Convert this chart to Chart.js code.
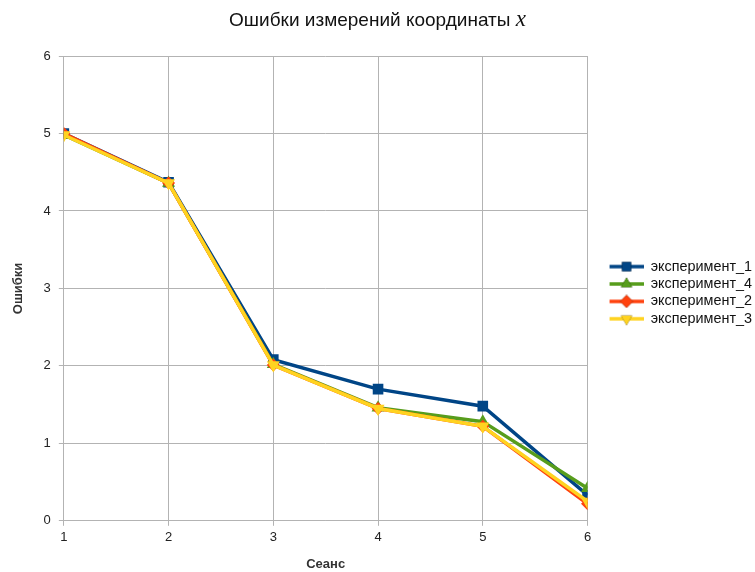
<!DOCTYPE html>
<html>
<head>
<meta charset="utf-8">
<script src="https://cdn.jsdelivr.net/npm/chart.js@4/dist/chart.umd.min.js"></script>
<style>
  body { margin: 0; background: #fff; }
  #wrap { position: relative; width: 755px; height: 572px; }
  #title {
    position: absolute; top: 6px; left: 0; width: 755px; text-align: center;
    font-family: "Liberation Sans", Arial, sans-serif; font-size: 19px; color: #111;
  }
  #title i { font-family: "Liberation Serif", serif; font-size: 23px; }
</style>
</head>
<body>
<div id="wrap">
  <div id="title">Ошибки измерений координаты <i>x</i></div>
  <canvas id="chart" width="755" height="572"></canvas>
</div>
<script>
// session numbers
const sessions = [1, 2, 3, 4, 5, 6];

// error values per experiment
const exp1 = [5.00, 4.37, 2.08, 1.70, 1.48, 0.33];
const exp4 = [4.98, 4.36, 2.02, 1.46, 1.28, 0.42];
const exp2 = [5.00, 4.36, 2.01, 1.45, 1.22, 0.22];
const exp3 = [4.98, 4.36, 2.01, 1.45, 1.22, 0.25];

const yTicks = [0, 1, 2, 3, 4, 5, 6];

const font = "'Liberation Sans', Arial, sans-serif";

// small canvas with a line and marker for the legend (blank gap on the left)
function legendSymbol(color, style, rot) {
  const c = document.createElement('canvas');
  c.width = 53; c.height = 14;
  const ctx = c.getContext('2d');
  ctx.strokeStyle = color;
  ctx.lineWidth = 3.5;
  ctx.beginPath();
  ctx.moveTo(19, 7); ctx.lineTo(53, 7);
  ctx.stroke();
  Chart.helpers.drawPoint(ctx, {pointStyle: style, rotation: rot || 0, radius: 6.5, borderWidth: 0}, 36, 7);
  ctx.fillStyle = color;
  ctx.fill();
  return c;
}

function makeSet(label, data, color, style, radius, rot) {
  return {
    label: label,
    data: data.map((v, i) => ({x: sessions[i], y: v})),
    borderColor: color,
    backgroundColor: color,
    borderWidth: 3.5,
    pointStyle: style,
    pointRadius: radius,
    pointRotation: rot || 0,
    pointBorderWidth: 0,
    pointHoverRadius: radius,
    tension: 0,
    _symbol: legendSymbol(color, style, rot)
  };
}

// drawn last-to-first, so exp3 (yellow) ends up on top
const datasets = [
  makeSet('эксперимент_3', exp3, '#ffd320', 'triangle', 7.5, 180),
  makeSet('эксперимент_2', exp2, '#ff420e', 'rectRot', 6.5),
  makeSet('эксперимент_4', exp4, '#579d1c', 'triangle', 7.5),
  makeSet('эксперимент_1', exp1, '#004586', 'rect', 7.5)
];

new Chart(document.getElementById('chart'), {
  type: 'line',
  data: { datasets: datasets },
  options: {
    responsive: false,
    animation: false,
    layout: { padding: { top: 56, left: 11, right: -7, bottom: 0 } },
    plugins: {
      title: { display: false },
      tooltip: { enabled: false },
      legend: {
        position: 'right',
        align: 'start',
        reverse: true,
        title: { display: true, text: '', padding: { top: 186, bottom: 0 } },
        labels: {
          usePointStyle: true,
          pointStyleWidth: 53,
          boxHeight: 14,
          padding: 3,
          color: '#111',
          font: { family: font, size: 14.4 },
          generateLabels: chart => chart.data.datasets.map((ds, i) => ({
            text: ds.label,
            pointStyle: ds._symbol,
            fillStyle: ds.borderColor,
            strokeStyle: ds.borderColor,
            fontColor: '#111',
            lineWidth: 0,
            datasetIndex: i,
            hidden: false
          }))
        }
      }
    },
    scales: {
      x: {
        type: 'linear',
        min: 1,
        max: 6,
        ticks: { stepSize: 1, color: '#222', font: { family: font, size: 13 }, padding: 4 },
        grid: { color: '#b3b3b3', tickLength: 5 },
        border: { color: '#b3b3b3' },
        title: {
          display: true, text: 'Сеанс', color: '#333',
          font: { family: font, size: 13, weight: 'bold' }, padding: { top: 7, bottom: 0 }
        }
      },
      y: {
        min: yTicks[0],
        max: yTicks[yTicks.length - 1],
        afterBuildTicks: axis => { axis.ticks = yTicks.map(v => ({value: v})); },
        ticks: { color: '#222', font: { family: font, size: 13 }, padding: 8 },
        grid: { color: '#b3b3b3', tickLength: 5 },
        border: { color: '#b3b3b3' },
        title: {
          display: true, text: 'Ошибки', color: '#333',
          font: { family: font, size: 13, weight: 'bold' }, padding: { top: 0, bottom: 9 }
        }
      }
    }
  }
});
</script>
</body>
</html>
